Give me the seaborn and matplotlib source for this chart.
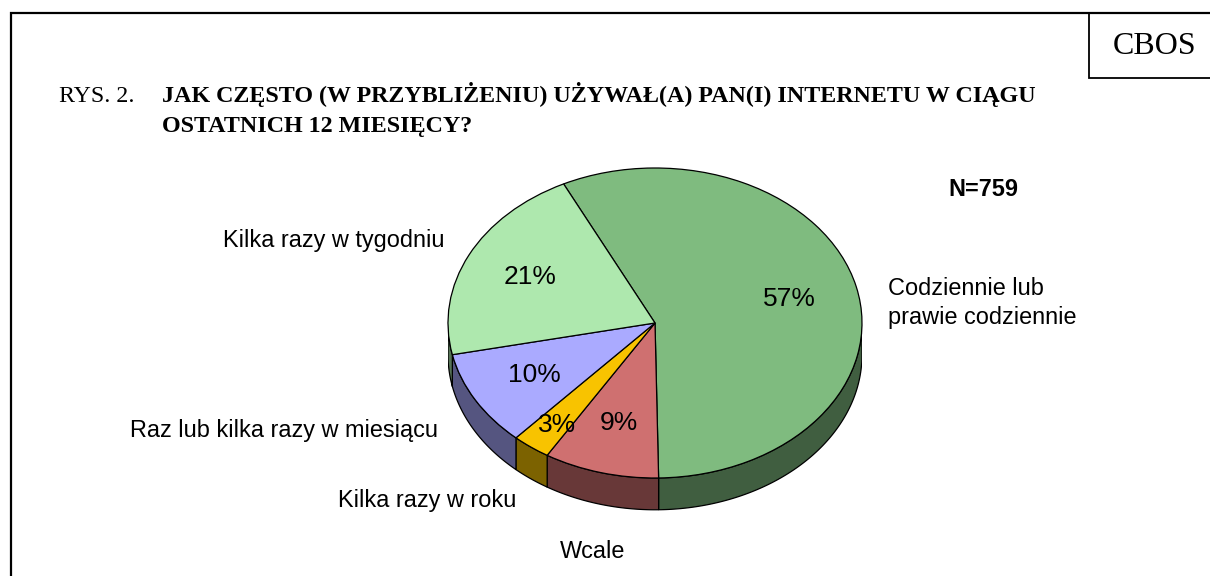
"""
RYS. 2 - CBOS pie chart: how often respondents used the internet.
"""

import numpy as np
import matplotlib.pyplot as plt
import seaborn as sns

W, H = 1210, 576

CATEGORIES = ["Codziennie lub\nprawie codziennie", "Wcale", "Kilka razy w roku",
              "Raz lub kilka razy w miesiącu", "Kilka razy w tygodniu"]
VALUES = [57, 9, 3, 10, 21]
COLORS = ["#7FBB7F", "#CF7070", "#F8C300", "#AAAAFF", "#AEE8AE"]

# pixel anchors of the outer labels, same order as CATEGORIES
LABEL_POS = [(888, 303), (593, 552), (427.5, 500), (284.5, 430), (334, 241)]

TITLE = ("JAK CZĘSTO (W PRZYBLIŻENIU) UŻYWAŁ(A) PAN(I) INTERNETU W CIĄGU\n"
         "OSTATNICH 12 MIESIĘCY?")

START_ANGLE = 116.2
CX, CY, RX, RY = 655, 323, 207, 155
DEPTH = 0.205
LABEL_SIZE = 16.9

sns.set_style("white")
plt.rcParams["font.family"] = ["Liberation Sans", "DejaVu Sans"]
plt.rcParams["text.color"] = "black"

fig = plt.figure(figsize=(W / 100, H / 100), dpi=100)

# ── page layer, in pixels ────────────────────────────────────────────────────
page = fig.add_axes([0, 0, 1, 1])
page.set_xlim(0, W)
page.set_ylim(H, 0)
page.axis("off")

page.plot([10.5, 10.5, W], [H, 13, 13], color="black", lw=1.6, solid_joinstyle="miter")
page.plot([1089, 1089, W], [13, 77.5, 77.5], color="black", lw=1.3, solid_joinstyle="miter")
page.text(1155, 46, "CBOS", family="Liberation Serif", fontsize=23, ha="center", va="center")
page.text(59, 96, "RYS. 2.", family="Liberation Serif", fontsize=17.2, va="center")
page.text(162, 109.7, TITLE, family="Liberation Serif", fontsize=17.3, fontweight="bold",
          va="center", linespacing=1.53)
page.text(983.5, 189, "N=759", fontsize=16.9, fontweight="bold", ha="center", va="center")

# ── pie layer, unit circle squashed to an ellipse ────────────────────────────
y_low, y_high = -1.4, 1.1
pie_ax = fig.add_axes([
    (CX - RX) / W,
    1 - (CY - y_low * RY) / H,
    2 * RX / W,
    (y_high - y_low) * RY / H,
])

wedges, _, autotexts = pie_ax.pie(
    VALUES,
    colors=sns.color_palette(COLORS),
    startangle=START_ANGLE,
    counterclock=False,
    autopct="%d%%",
    pctdistance=0.67,
    wedgeprops={"edgecolor": "black", "linewidth": 0.9, "zorder": 3},
    textprops={"fontsize": 19, "color": "black", "zorder": 5},
)
pie_ax.set_aspect("auto")
pie_ax.set_xlim(-1, 1)
pie_ax.set_ylim(y_low, y_high)
pie_ax.axis("off")

# the 3% label sits further out than the others
x3, y3 = autotexts[2].get_position()
autotexts[2].set_position((x3 * 0.787 / 0.67, y3 * 0.82 / 0.67))

# ── extruded side, only the front half of each slice ─────────────────────────
edges = START_ANGLE - 3.6 * np.cumsum([0] + VALUES)
for i, color in enumerate(COLORS):
    theta = np.radians(np.linspace(edges[i], edges[i + 1], 300))
    theta = theta[np.sin(theta) <= 0]
    if len(theta) < 2:
        continue
    x, y = np.cos(theta), np.sin(theta)
    dark = tuple(c * 0.5 for c in sns.color_palette([color])[0])
    pie_ax.fill(np.r_[x, x[::-1]], np.r_[y, y[::-1] - DEPTH],
                facecolor=dark, edgecolor="black", linewidth=0.9, zorder=2)

# ── outer labels ─────────────────────────────────────────────────────────────
aligns = ["left", "center", "center", "center", "center"]
for name, (px, py), ha in zip(CATEGORIES, LABEL_POS, aligns):
    page.text(px, py, name, fontsize=LABEL_SIZE, ha=ha, va="center", linespacing=1.28)

fig.savefig("out.png", dpi=100)
plt.close(fig)
